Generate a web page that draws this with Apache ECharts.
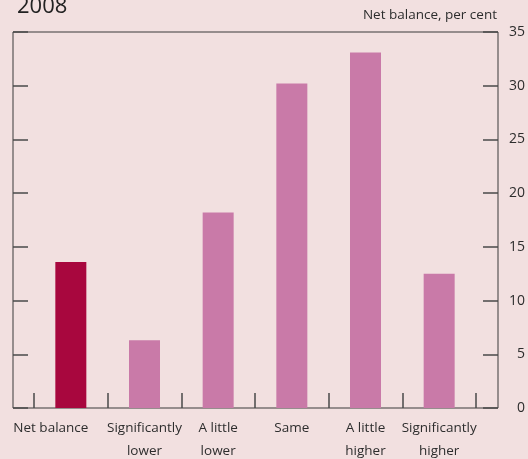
<!DOCTYPE html>
<html>
<head>
<meta charset="utf-8">
<script src="https://cdn.jsdelivr.net/npm/echarts@6/dist/echarts.min.js"></script>
<style>
html,body{margin:0;padding:0;background:#f2e0e0;}
#c{width:528px;height:459px;}
</style>
</head>
<body>
<div id="c"></div>
<script>
const categories = ['Net balance', 'Significantly\nlower', 'A little\nlower', 'Same', 'A little\nhigher', 'Significantly\nhigher'];
const values = [13.6, 6.3, 18.2, 30.2, 33.1, 12.5];
const highlightIndex = 0;
const yTicks = [0, 5, 10, 15, 20, 25, 30, 35];

const FONT = '"Open Sans", sans-serif';
const chart = echarts.init(document.getElementById('c'), null, {renderer: 'canvas'});
const tickStyle = {color: '#4a4a4a', width: 1.5};

chart.setOption({
  backgroundColor: '#f2e0e0',
  animation: false,
  title: [
    {text: '2008', left: 12, top: -9, textStyle: {fontFamily: FONT, fontSize: 22, fontWeight: 'normal', color: '#222'}},
    {text: 'Net balance, per cent', right: 31, top: 8, padding: 0, textStyle: {fontFamily: FONT, fontSize: 13.5, fontWeight: 'normal', color: '#2d2d2d'}}
  ],
  grid: [
    {left: 13, right: 30, top: 32, bottom: 51, show: true, borderColor: '#3a3a3a', borderWidth: 1, backgroundColor: 'transparent', outerBoundsMode: 'none', containLabel: false},
    {left: 34, right: 52, top: 32, bottom: 51, outerBoundsMode: 'none', containLabel: false}
  ],
  xAxis: [
    {type: 'category', gridIndex: 0, data: ['a'], show: false},
    {
      type: 'category', gridIndex: 1, data: categories,
      axisLine: {show: false},
      axisTick: {show: true, inside: true, length: 15, lineStyle: tickStyle},
      axisLabel: {
        fontFamily: FONT, fontSize: 13.5, color: '#2d2d2d', lineHeight: 23, margin: 9, interval: 0,
        formatter: function (v, i) { return i === 0 ? '{nb|' + v + '}' : v; },
        rich: {nb: {fontFamily: FONT, fontSize: 13.5, color: '#2d2d2d', padding: [0, 40, 0, 0]}}
      }
    }
  ],
  yAxis: [
    {
      type: 'value', gridIndex: 0, position: 'right', min: 0, max: 35, interval: 5,
      axisLine: {show: false},
      axisTick: {show: true, inside: true, length: 15, lineStyle: tickStyle},
      axisLabel: {fontFamily: FONT, fontSize: 14, color: '#2d2d2d', align: 'right', margin: 27,
        formatter: function (v) { return yTicks.indexOf(v) >= 0 ? String(v) : ''; }},
      splitLine: {show: false}
    },
    {
      type: 'value', gridIndex: 0, position: 'left', min: 0, max: 35, interval: 5,
      axisLine: {show: false},
      axisTick: {show: true, inside: true, length: 15, lineStyle: tickStyle},
      axisLabel: {show: false},
      splitLine: {show: false}
    },
    {type: 'value', gridIndex: 1, min: 0, max: 35, interval: 5, show: false, splitLine: {show: false}}
  ],
  series: [{
    type: 'bar', xAxisIndex: 1, yAxisIndex: 2, barWidth: 31,
    data: values.map(function (v, i) {
      return {value: v, itemStyle: {color: i === highlightIndex ? '#a8073e' : '#c97aa8'}};
    })
  }]
});
</script>
</body>
</html>
